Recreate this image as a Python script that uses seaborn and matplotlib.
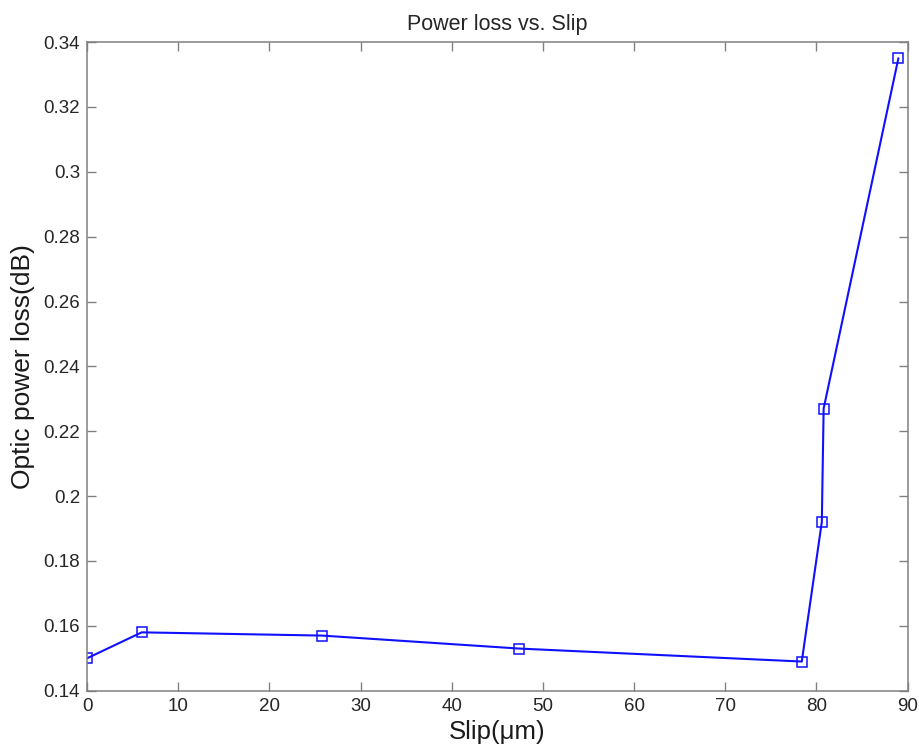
import matplotlib
matplotlib.use("Agg")
import matplotlib.pyplot as plt
from matplotlib.ticker import FuncFormatter, MultipleLocator
import seaborn as sns
import pandas as pd

# Measured slip (um) and resulting optic power loss (dB)
slip_um = [0, 6, 25.8, 47.4, 78.4, 80.6, 80.8, 89]
loss_db = [0.150, 0.158, 0.157, 0.153, 0.149, 0.192, 0.227, 0.335]

title = "Power loss vs. Slip"
x_label = "Slip(\u03bcm)"
y_label = "Optic power loss(dB)"

sns.set_style("white")
plt.rcParams["font.family"] = ["Liberation Sans", "DejaVu Sans"]

df = pd.DataFrame({"slip": slip_um, "loss": loss_db})

fig = plt.figure(figsize=(9.19, 7.49), dpi=100)
ax = fig.add_axes([0.0947, 0.0778, 0.8928, 0.8661])

sns.lineplot(
    data=df, x="slip", y="loss", ax=ax, sort=False, estimator=None,
    color="#1010ff", linewidth=1.5, marker="s", markersize=7,
    markerfacecolor="none", markeredgecolor="#1010ff", markeredgewidth=1.1,
)

ax.set_xlim(0, 90)
ax.set_ylim(0.14, 0.34)
ax.xaxis.set_major_locator(MultipleLocator(10))
ax.yaxis.set_major_locator(MultipleLocator(0.02))
ax.yaxis.set_major_formatter(FuncFormatter(lambda v, p: f"{v:.2f}".rstrip("0").rstrip(".")))
ax.xaxis.set_major_formatter(FuncFormatter(lambda v, p: f"{v:g}"))

for s in ax.spines.values():
    s.set_visible(True)
    s.set_color("#808080")
    s.set_linewidth(1.1)

ax.tick_params(axis="both", which="major", direction="in", length=6.5, width=1.0,
               color="#808080", labelsize=13.5, labelcolor="#262626",
               top=True, right=True, bottom=True, left=True, pad=5)

ax.set_title(title, fontsize=15.5, color="#262626", pad=9)
ax.set_xlabel(x_label, fontsize=18.5, color="#1a1a1a", labelpad=4)
ax.set_ylabel(y_label, fontsize=19, color="#1a1a1a", labelpad=6)

fig.savefig("out.png", dpi=100, facecolor="white")
